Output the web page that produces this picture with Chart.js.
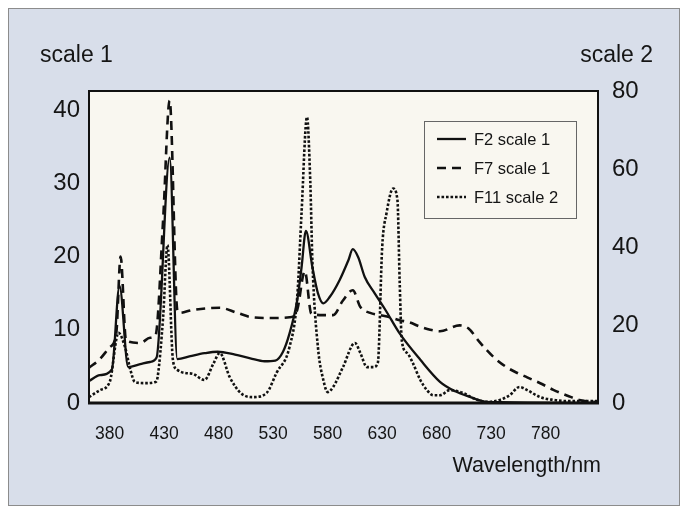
<!DOCTYPE html>
<html>
<head>
<meta charset="utf-8">
<script src="https://cdn.jsdelivr.net/npm/chart.js@4"></script>
<style>
  body { margin: 0; background: #fff; }
</style>
</head>
<body>
<canvas id="chart" width="688" height="508"></canvas>
<script>
// wavelengths (nm) and relative power
const f2Wl = [361, 371, 382, 389, 397, 408, 417, 423, 435, 442, 454, 467, 479, 495, 509, 522, 532, 539, 545, 552, 556, 560, 566, 571, 576, 582, 591, 599, 603, 608, 614, 623, 633, 646, 665, 683, 697, 711, 724, 738, 828];
const f2Val = [3.0, 3.8, 4.6, 16.0, 4.9, 5.3, 5.6, 6.2, 33.5, 6.0, 6.4, 6.8, 7.0, 6.6, 6.1, 5.7, 5.8, 7.0, 9.5, 14.0, 18.5, 23.5, 18.5, 15.0, 13.6, 14.5, 16.8, 19.5, 21.0, 19.9, 17.2, 15.0, 12.7, 9.5, 5.9, 2.9, 1.6, 0.8, 0.2, 0.1, 0.0];

const f7Wl = [361, 371, 380, 386, 390, 395, 408, 417, 422, 429, 435, 442, 444, 456, 481, 497, 511, 530, 545, 552, 559, 565, 576, 585, 594, 603, 610, 619, 628, 637, 646, 655, 665, 674, 683, 701, 709, 720, 732, 744, 754, 763, 775, 787, 800, 811, 828];
const f7Val = [4.8, 6.0, 7.6, 9.5, 20.0, 8.5, 8.2, 8.9, 9.2, 25.0, 41.3, 12.7, 12.3, 12.7, 13.0, 12.3, 11.7, 11.6, 11.7, 12.7, 18.0, 12.2, 12.0, 12.0, 14.0, 15.4, 13.1, 12.3, 12.0, 11.7, 11.3, 11.0, 10.4, 10.0, 9.8, 10.6, 10.2, 8.2, 6.3, 4.9, 4.1, 3.5, 2.7, 1.8, 1.0, 0.4, 0.1];

const f11Wl = [361, 371, 380, 388, 394, 399, 403, 412, 422, 424, 429, 433, 438, 442, 449, 456, 467, 475, 481, 490, 500, 511, 524, 533, 545, 552, 556, 561, 564, 566, 571, 576, 580, 585, 594, 605, 610, 616, 622, 626, 630, 634, 640, 644, 646, 648, 653, 658, 665, 671, 677, 683, 692, 704, 713, 726, 738, 747, 756, 763, 775, 787, 800, 828];
const f11Val = [1.5, 3.3, 5.4, 18.0, 14.4, 8.5, 5.4, 5.1, 5.4, 6.7, 22.0, 40.5, 11.0, 8.5, 7.7, 7.5, 5.9, 10.0, 12.8, 6.7, 2.6, 1.5, 2.6, 7.7, 14.4, 27.0, 48.7, 73.3, 57.0, 36.0, 14.4, 5.9, 2.8, 4.1, 9.2, 15.4, 12.8, 9.2, 9.2, 10.3, 40.0, 48.7, 55.0, 52.0, 31.5, 16.0, 12.8, 10.3, 5.9, 3.3, 2.0, 2.0, 3.3, 2.6, 1.3, 0.3, 0.8, 2.0, 4.1, 3.3, 1.5, 0.8, 0.5, 0.5];

const xTicks = [380, 430, 480, 530, 580, 630, 680, 730, 780];
const leftTicks = [0, 10, 20, 30, 40];
const rightTicks = [0, 20, 40, 60, 80];

const FONT = "'Liberation Sans Narrow', 'Liberation Sans', sans-serif";
const INK = '#151515';

function pts(xs, ys) {
    return xs.map((x, i) => ({ x: x, y: ys[i] }));
}

// background panel, plot frame, legend and free texts
const decor = {
    id: 'decor',
    beforeDraw(chart) {
        const ctx = chart.ctx;
        const a = chart.chartArea;
        ctx.save();
        ctx.fillStyle = '#ffffff';
        ctx.fillRect(0, 0, chart.width, chart.height);
        ctx.fillStyle = '#d8deea';
        ctx.fillRect(8, 8, 672, 498);
        ctx.strokeStyle = '#8c8c8c';
        ctx.lineWidth = 1;
        ctx.strokeRect(8.5, 8.5, 671, 497);
        ctx.fillStyle = '#f9f7f0';
        ctx.fillRect(a.left, a.top, a.right - a.left, a.bottom - a.top);
        ctx.restore();
    },
    afterDraw(chart) {
        const ctx = chart.ctx;
        const a = chart.chartArea;
        ctx.save();
        // frame
        ctx.strokeStyle = '#111';
        ctx.lineWidth = 2;
        ctx.strokeRect(a.left, a.top, a.right - a.left, a.bottom - a.top);
        ctx.lineWidth = 3;
        ctx.beginPath();
        ctx.moveTo(a.left - 1, a.bottom);
        ctx.lineTo(a.right + 1, a.bottom);
        ctx.stroke();

        // axis texts
        ctx.fillStyle = INK;
        ctx.textBaseline = 'middle';
        ctx.font = '23px ' + FONT;
        ctx.textAlign = 'left';
        ctx.fillText('scale 1', 40, 56);
        ctx.textAlign = 'right';
        ctx.fillText('scale 2', 653, 56);
        ctx.font = '21.5px ' + FONT;
        ctx.fillText('Wavelength/nm', 601, 466);

        // legend
        const lx = 424, ly = 121, lw = 152, lh = 97;
        ctx.fillStyle = '#f9f7f0';
        ctx.fillRect(lx, ly, lw, lh);
        ctx.strokeStyle = '#666';
        ctx.lineWidth = 1;
        ctx.strokeRect(lx + 0.5, ly + 0.5, lw, lh);
        ctx.font = '16.5px ' + FONT;
        ctx.textAlign = 'left';
        chart.data.datasets.forEach((ds, i) => {
            const y = 139 + i * 29;
            ctx.strokeStyle = ds.borderColor;
            ctx.lineWidth = ds.borderWidth;
            ctx.setLineDash(ds.borderDash || []);
            ctx.beginPath();
            ctx.moveTo(437, y);
            ctx.lineTo(466, y);
            ctx.stroke();
            ctx.setLineDash([]);
            ctx.fillStyle = INK;
            ctx.fillText(ds.label, 474, y + 1);
        });
        ctx.restore();
    }
};

function fixedTicks(list) {
    return scale => { scale.ticks = list.map(v => ({ value: v })); };
}

const ctx = document.getElementById('chart').getContext('2d');
const myChart = new Chart(ctx, {
    type: 'line',
    data: {
        datasets: [{
            label: 'F2 scale 1',
            data: pts(f2Wl, f2Val),
            yAxisID: 'y',
            borderColor: '#111',
            borderWidth: 2.3
        }, {
            label: 'F7 scale 1',
            data: pts(f7Wl, f7Val),
            yAxisID: 'y',
            borderColor: '#111',
            borderWidth: 2.6,
            borderDash: [9, 6]
        }, {
            label: 'F11 scale 2',
            data: pts(f11Wl, f11Val),
            yAxisID: 'y2',
            borderColor: '#111',
            borderWidth: 2.6,
            borderDash: [2.6, 1.9]
        }]
    },
    options: {
        responsive: false,
        animation: false,
        layout: { padding: { top: 91, left: 0, right: 0, bottom: 0 } },
        elements: {
            point: { radius: 0 },
            line: { cubicInterpolationMode: 'monotone', fill: false }
        },
        plugins: {
            legend: { display: false },
            tooltip: { enabled: false }
        },
        scales: {
            x: {
                type: 'linear',
                min: 361,
                max: 828,
                afterBuildTicks: fixedTicks(xTicks),
                afterFit: s => { s.height = 105; },
                grid: { display: false, drawTicks: false },
                border: { display: false },
                ticks: { font: { family: FONT, size: 17.5 }, color: INK, padding: 21, maxRotation: 0, autoSkip: false }
            },
            y: {
                position: 'left',
                min: 0,
                max: 42.6,
                afterBuildTicks: fixedTicks(leftTicks),
                afterFit: s => { s.width = 89; },
                grid: { display: false, drawTicks: false },
                border: { display: false },
                ticks: { font: { family: FONT, size: 24 }, color: INK, padding: 9 }
            },
            y2: {
                position: 'right',
                min: 0,
                max: 80,
                afterBuildTicks: fixedTicks(rightTicks),
                afterFit: s => { s.width = 90; },
                grid: { display: false, drawTicks: false },
                border: { display: false },
                ticks: { font: { family: FONT, size: 24 }, color: INK, padding: 14 }
            }
        }
    },
    plugins: [decor]
});
</script>
</body>
</html>
